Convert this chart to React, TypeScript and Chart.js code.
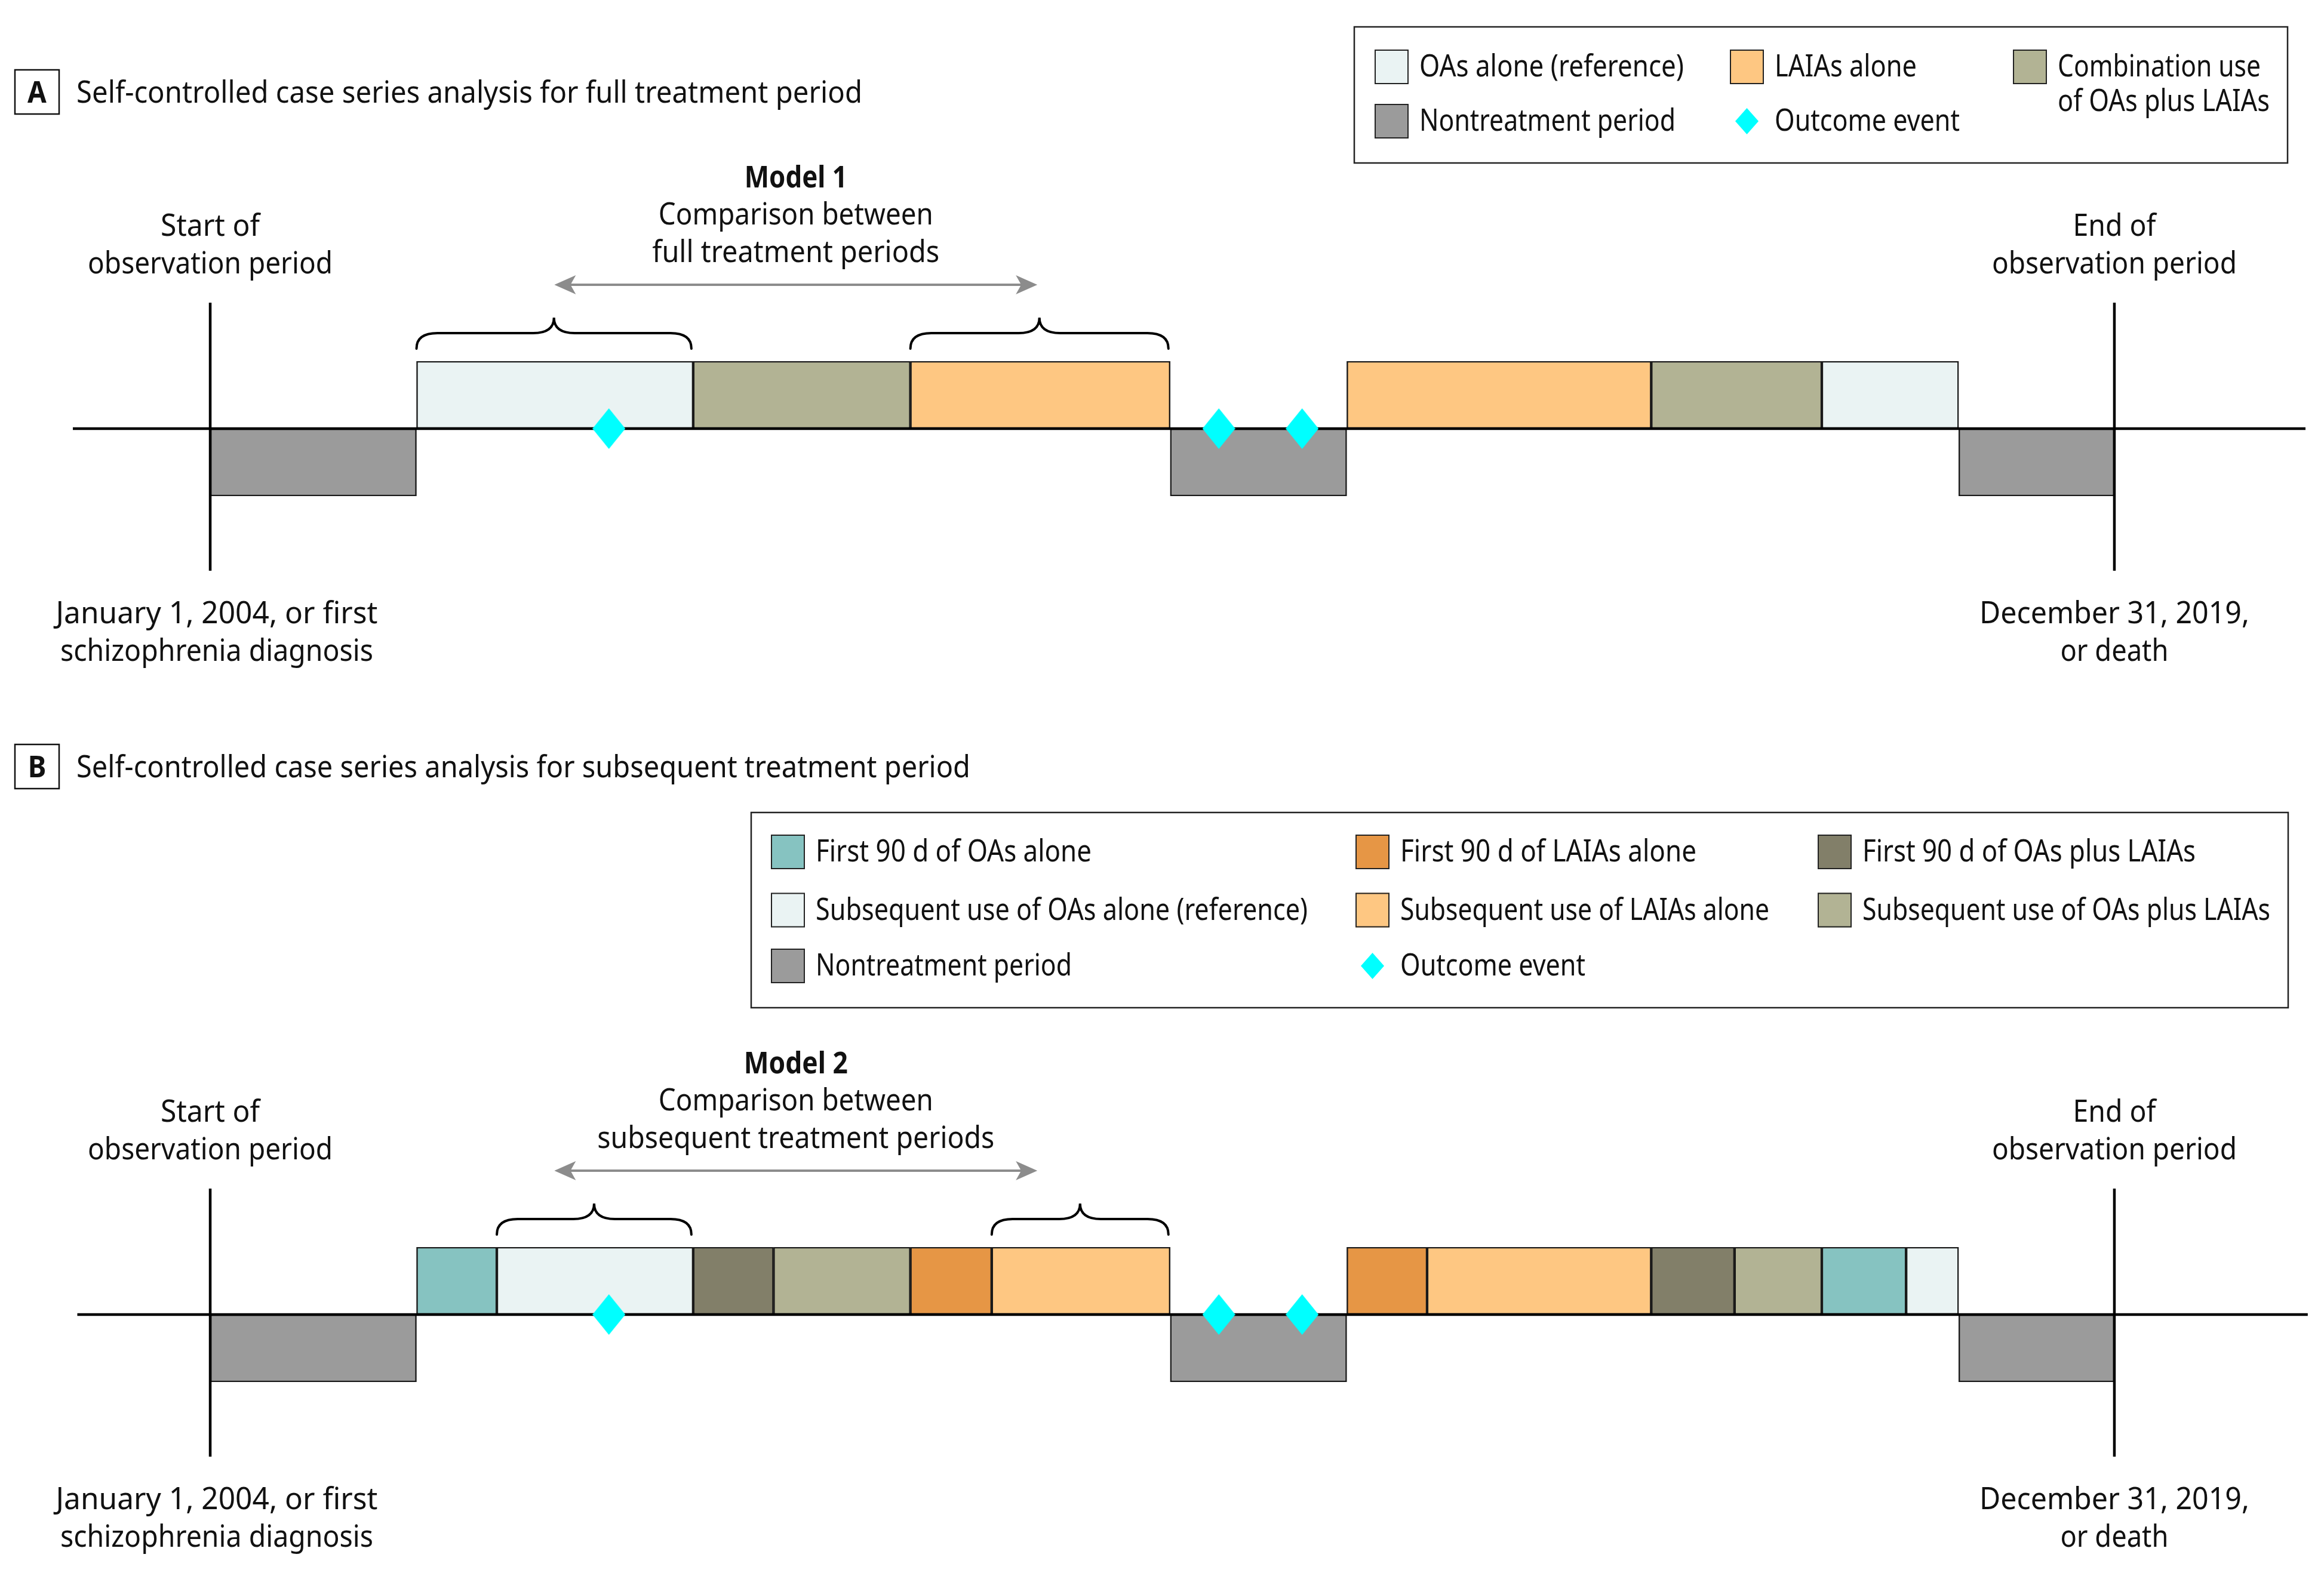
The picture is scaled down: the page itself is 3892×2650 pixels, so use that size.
import React, { useEffect, useRef } from 'react';
import { Chart, registerables } from 'chart.js';

Chart.register(...registerables);

const W = 3892;
const H = 2650;

// Timeline expressed in months from start of observation (Jan 2004) to end (Dec 2019)
const OBS_START = 0;
const OBS_END = 192;

// Panel A: full treatment periods
const BOUNDS_A = [0, 20.8, 48.7, 70.6, 96.8, 114.6, 145.3, 162.5, 176.3, 192];
const TYPES_A = ['none', 'oa', 'combo', 'laia', 'none', 'laia', 'combo', 'oa', 'none'];
const EVENTS_A = [40.2, 101.7, 110.1];
const BRACES_A = [1, 3];
const AXIS_A = [-13.85, 211.27];

// Panel B: first 90 d vs subsequent treatment periods
const BOUNDS_B = [0, 20.8, 28.9, 48.7, 56.8, 70.6, 78.8, 96.8, 114.6, 122.7, 145.3, 153.7, 162.5, 171.0, 176.3, 192];
const TYPES_B = ['none', 'oa90', 'oa', 'combo90', 'combo', 'laia90', 'laia', 'none', 'laia90', 'laia', 'combo90', 'combo', 'oa90', 'oa', 'none'];
const EVENTS_B = [40.2, 101.7, 110.1];
const BRACES_B = [2, 6];
const AXIS_B = [-13.4, 211.5];

const COMPARE_ARROW = [34.7, 83.4];

const COLORS: Record<string, string> = {
  oa: '#EAF3F3',
  laia: '#FEC782',
  combo: '#B2B394',
  none: '#9B9B9B',
  oa90: '#86C3C1',
  laia90: '#E69645',
  combo90: '#827F69',
  event: '#00FFFF',
};

const LABELS_A: Record<string, string[]> = {
  oa: ['OAs alone (reference)'],
  laia: ['LAIAs alone'],
  combo: ['Combination use', 'of OAs plus LAIAs'],
  none: ['Nontreatment period'],
  event: ['Outcome event'],
};
const LABELS_B: Record<string, string[]> = {
  oa90: ['First 90 d of OAs alone'],
  laia90: ['First 90 d of LAIAs alone'],
  combo90: ['First 90 d of OAs plus LAIAs'],
  oa: ['Subsequent use of OAs alone (reference)'],
  laia: ['Subsequent use of LAIAs alone'],
  combo: ['Subsequent use of OAs plus LAIAs'],
  none: ['Nontreatment period'],
  event: ['Outcome event'],
};
const LEGEND_A_ROWS = [['oa', 'laia', 'combo'], ['none', 'event']];
const LEGEND_B_ROWS = [['oa90', 'laia90', 'combo90'], ['oa', 'laia', 'combo'], ['none', 'event']];

const MODEL_A_LINES = ['Model 1', 'Comparison between', 'full treatment periods'];
const MODEL_B_LINES = ['Model 2', 'Comparison between', 'subsequent treatment periods'];
const START_TOP = ['Start of', 'observation period'];
const END_TOP = ['End of', 'observation period'];
const START_BOTTOM = ['January 1, 2004, or first', 'schizophrenia diagnosis'];
const END_BOTTOM = ['December 31, 2019,', 'or death'];

const FONT_PX = 51;
const FAMILY = '"Noto Sans", "Open Sans", "DejaVu Sans", sans-serif';

// rendered widths of the condensed typeface used in the figure (px)
const TEXT_WIDTHS: Record<string, number> = {
  'Self-controlled case series analysis for full treatment period': 1316,
  'Self-controlled case series analysis for subsequent treatment period': 1497,
  'OAs alone (reference)': 443,
  'LAIAs alone': 238,
  'Combination use': 340,
  'of OAs plus LAIAs': 355,
  'Nontreatment period': 429,
  'Outcome event': 310,
  'First 90 d of OAs alone': 462,
  'First 90 d of LAIAs alone': 496,
  'First 90 d of OAs plus LAIAs': 558,
  'Subsequent use of OAs alone (reference)': 824,
  'Subsequent use of LAIAs alone': 618,
  'Subsequent use of OAs plus LAIAs': 683,
  'Start of': 166,
  'End of': 139,
  'observation period': 410,
  'January 1, 2004, or first': 539,
  'schizophrenia diagnosis': 524,
  'December 31, 2019,': 452,
  'or death': 181,
  'Model 1': 172,
  'Model 2': 174,
  'Comparison between': 460,
  'full treatment periods': 481,
  'subsequent treatment periods': 665,
};

const PANEL_A = {
  key: 'A', top: 0, height: 1180, padTop: 605, padBottom: 349,
  letter: 'A', title: 'Self-controlled case series analysis for full treatment period',
  boxY: 117, titleBase: 172,
  legendBox: [2268, 45, 3831, 273], legendCols: [2302, 2897, 3371], legendRowsY: [112, 203],
  legendRows: LEGEND_A_ROWS, labels: LABELS_A, model: MODEL_A_LINES,
  bounds: BOUNDS_A, types: TYPES_A, events: EVENTS_A, braces: BRACES_A, axis: AXIS_A,
};
const PANEL_B = {
  key: 'B', top: 1180, height: 1470, padTop: 909, padBottom: 335,
  letter: 'B', title: 'Self-controlled case series analysis for subsequent treatment period',
  boxY: 67, titleBase: 122,
  legendBox: [1258, 181, 3832, 508], legendCols: [1291, 2270, 3044], legendRowsY: [247, 344.5, 438],
  legendRows: LEGEND_B_ROWS, labels: LABELS_B, model: MODEL_B_LINES,
  bounds: BOUNDS_B, types: TYPES_B, events: EVENTS_B, braces: BRACES_B, axis: AXIS_B,
};

function diamondCanvas(w: number, h: number, color: string) {
  const c = document.createElement('canvas');
  c.width = w;
  c.height = h;
  const g = c.getContext('2d')!;
  g.fillStyle = color;
  g.beginPath();
  g.moveTo(w / 2, 0);
  g.lineTo(w, h / 2);
  g.lineTo(w / 2, h);
  g.lineTo(0, h / 2);
  g.closePath();
  g.fill();
  return c;
}

function makeText(ctx: CanvasRenderingContext2D) {
  ctx.font = `${FONT_PX}px ${FAMILY}`;
  const kr = TEXT_WIDTHS['observation period'] / ctx.measureText('observation period').width;
  return (s: string, x: number, y: number, align: 'left' | 'center' = 'left', bold = false) => {
    ctx.save();
    ctx.font = `${bold ? 'bold ' : ''}${FONT_PX}px ${FAMILY}`;
    const natural = ctx.measureText(s).width;
    const k = TEXT_WIDTHS[s] ? TEXT_WIDTHS[s] / natural : kr;
    const w = natural * k;
    const x0 = align === 'center' ? x - w / 2 : x;
    ctx.translate(x0, y);
    ctx.scale(k, 1);
    ctx.fillStyle = '#111';
    ctx.textAlign = 'left';
    ctx.textBaseline = 'alphabetic';
    ctx.fillText(s, 0, 0);
    ctx.restore();
  };
}

function drawBrace(ctx: CanvasRenderingContext2D, x1: number, x2: number, yTip: number, yMid: number, yEnd: number) {
  const xm = (x1 + x2) / 2;
  const r = Math.min(35, (x2 - x1) / 5);
  ctx.beginPath();
  ctx.moveTo(x1, yEnd);
  ctx.quadraticCurveTo(x1, yMid, x1 + r, yMid);
  ctx.lineTo(xm - r, yMid);
  ctx.quadraticCurveTo(xm, yMid, xm, yTip);
  ctx.quadraticCurveTo(xm, yMid, xm + r, yMid);
  ctx.lineTo(x2 - r, yMid);
  ctx.quadraticCurveTo(x2, yMid, x2, yEnd);
  ctx.stroke();
}

function makeChart(canvas: HTMLCanvasElement, P: any) {
  const keys: string[] = [];
  P.types.forEach((t: string) => { if (!keys.includes(t)) keys.push(t); });
  const bars = keys.map((k) => ({
    type: 'bar' as const,
    label: P.labels[k].join(' '),
    indexAxis: 'y' as const,
    xAxisID: 'x',
    yAxisID: 'yCat',
    data: P.types
      .map((t: string, i: number) => (t === k ? { x: [P.bounds[i], P.bounds[i + 1]], y: t === 'none' ? 'below' : 'above' } : null))
      .filter(Boolean),
    backgroundColor: COLORS[k],
    borderColor: '#1a1a1a',
    borderWidth: 2.5,
    borderSkipped: false,
    barPercentage: 1,
    categoryPercentage: 1,
    grouped: false,
    order: 3,
  }));
  const axisLine = {
    type: 'line' as const,
    label: 'axis',
    xAxisID: 'x',
    yAxisID: 'yEv',
    data: [{ x: P.axis[0], y: 0 }, { x: P.axis[1], y: 0 }],
    borderColor: '#000',
    borderWidth: 4.5,
    pointRadius: 0,
    clip: false as any,
    order: 1,
  };
  const events = {
    type: 'line' as const,
    label: 'Outcome event',
    xAxisID: 'x',
    yAxisID: 'yEv',
    data: P.events.map((m: number) => ({ x: m, y: 0 })),
    showLine: false,
    pointStyle: diamondCanvas(55, 68, COLORS.event),
    pointRadius: 30,
    clip: false as any,
    order: 0,
  };

  const decorations = {
    id: 'decor' + P.key,
    afterDraw(chart: any) {
      const { ctx, chartArea, scales } = chart;
      const x = scales.x;
      const T = chartArea.top;
      const text = makeText(ctx);
      const xs = x.getPixelForValue(OBS_START);
      const xe = x.getPixelForValue(OBS_END);
      ctx.save();
      // observation period boundaries
      ctx.strokeStyle = '#000';
      ctx.lineWidth = 4.5;
      [xs, xe].forEach((px) => {
        ctx.beginPath();
        ctx.moveTo(px, T - 98);
        ctx.lineTo(px, T + 351);
        ctx.stroke();
      });
      // braces over compared segments
      ctx.lineWidth = 4;
      ctx.lineCap = 'round';
      P.braces.forEach((si: number) => {
        const x1 = x.getPixelForValue(P.bounds[si]);
        const x2 = x.getPixelForValue(P.bounds[si + 1]);
        drawBrace(ctx, x1, x2 - 3, T - 73, T - 47, T - 21);
      });
      // comparison arrow
      const a1 = x.getPixelForValue(COMPARE_ARROW[0]);
      const a2 = x.getPixelForValue(COMPARE_ARROW[1]);
      const ay = T - 128;
      ctx.strokeStyle = '#8C8C8C';
      ctx.fillStyle = '#8C8C8C';
      ctx.lineWidth = 4;
      ctx.lineCap = 'butt';
      ctx.beginPath();
      ctx.moveTo(a1 + 25, ay);
      ctx.lineTo(a2 - 25, ay);
      ctx.stroke();
      [[a1, 1], [a2, -1]].forEach(([tx, d]) => {
        ctx.beginPath();
        ctx.moveTo(tx, ay);
        ctx.lineTo(tx + d * 36, ay - 16);
        ctx.lineTo(tx + d * 27, ay);
        ctx.lineTo(tx + d * 36, ay + 16);
        ctx.closePath();
        ctx.fill();
      });
      ctx.restore();

      // model text
      const am = (a1 + a2) / 2;
      P.model.forEach((s: string, i: number) => text(s, am, T - 291 + i * 62.3, 'center', i === 0));
      // start/end labels
      START_TOP.forEach((s, i) => text(s, xs, T - 210 + i * 62.5, 'center'));
      END_TOP.forEach((s, i) => text(s, xe, T - 210 + i * 62.5, 'center'));
      START_BOTTOM.forEach((s, i) => text(s, xs + 11, T + 439 + i * 63, 'center'));
      END_BOTTOM.forEach((s, i) => text(s, xe, T + 439 + i * 63, 'center'));

      // panel title
      ctx.save();
      ctx.strokeStyle = '#111';
      ctx.lineWidth = 2.5;
      ctx.strokeRect(25, P.boxY, 74, 74);
      ctx.restore();
      text(P.letter, 62, P.titleBase, 'center', true);
      text(P.title, 128, P.titleBase, 'left');

      // legend
      const [bx1, by1, bx2, by2] = P.legendBox;
      ctx.save();
      ctx.strokeStyle = '#222';
      ctx.lineWidth = 2.5;
      ctx.strokeRect(bx1, by1, bx2 - bx1, by2 - by1);
      ctx.restore();
      const legendDiamond = diamondCanvas(39, 44, COLORS.event);
      P.legendRows.forEach((row: string[], ri: number) => {
        const cy = P.legendRowsY[ri];
        row.forEach((k: string, ci: number) => {
          const sx = P.legendCols[ci];
          if (k === 'event') {
            ctx.drawImage(legendDiamond, sx + 28.5 - 19.5, cy - 22);
          } else {
            ctx.save();
            ctx.fillStyle = COLORS[k];
            ctx.fillRect(sx, cy - 29, 57, 58);
            ctx.strokeStyle = '#222';
            ctx.lineWidth = 2;
            ctx.strokeRect(sx + 1, cy - 28, 55, 56);
            ctx.restore();
          }
          P.labels[k].forEach((s: string, li: number) => text(s, sx + 75, cy + 16 + li * 58, 'left'));
        });
      });
    },
  };

  return new Chart(canvas, {
    type: 'bar',
    data: { datasets: [...bars, axisLine, events] as any },
    options: {
      responsive: false,
      animation: false,
      devicePixelRatio: 1,
      events: [],
      layout: { padding: { left: 122, right: W - 3861, top: P.padTop, bottom: P.padBottom } },
      plugins: { legend: { display: false }, tooltip: { enabled: false }, title: { display: false } },
      scales: {
        x: { type: 'linear', axis: 'x', min: AXIS_A[0], max: AXIS_A[1], offset: false, grid: { offset: false }, display: false },
        yCat: { type: 'category', axis: 'y', labels: ['above', 'below'], offset: true, display: false },
        yEv: { type: 'linear', axis: 'y', min: -1, max: 1, offset: false, display: false },
      } as any,
    },
    plugins: [decorations],
  });
}

export default function App() {
  const refA = useRef<HTMLCanvasElement>(null);
  const refB = useRef<HTMLCanvasElement>(null);
  useEffect(() => {
    const a = makeChart(refA.current!, PANEL_A);
    const b = makeChart(refB.current!, PANEL_B);
    return () => {
      a.destroy();
      b.destroy();
    };
  }, []);
  return (
    <div style={{ position: 'absolute', left: 0, top: 0, width: W, height: H, background: '#fff', overflow: 'hidden' }}>
      <canvas ref={refA} width={W} height={PANEL_A.height} style={{ position: 'absolute', left: 0, top: PANEL_A.top, width: W, height: PANEL_A.height }} />
      <canvas ref={refB} width={W} height={PANEL_B.height} style={{ position: 'absolute', left: 0, top: PANEL_B.top, width: W, height: PANEL_B.height }} />
    </div>
  );
}
